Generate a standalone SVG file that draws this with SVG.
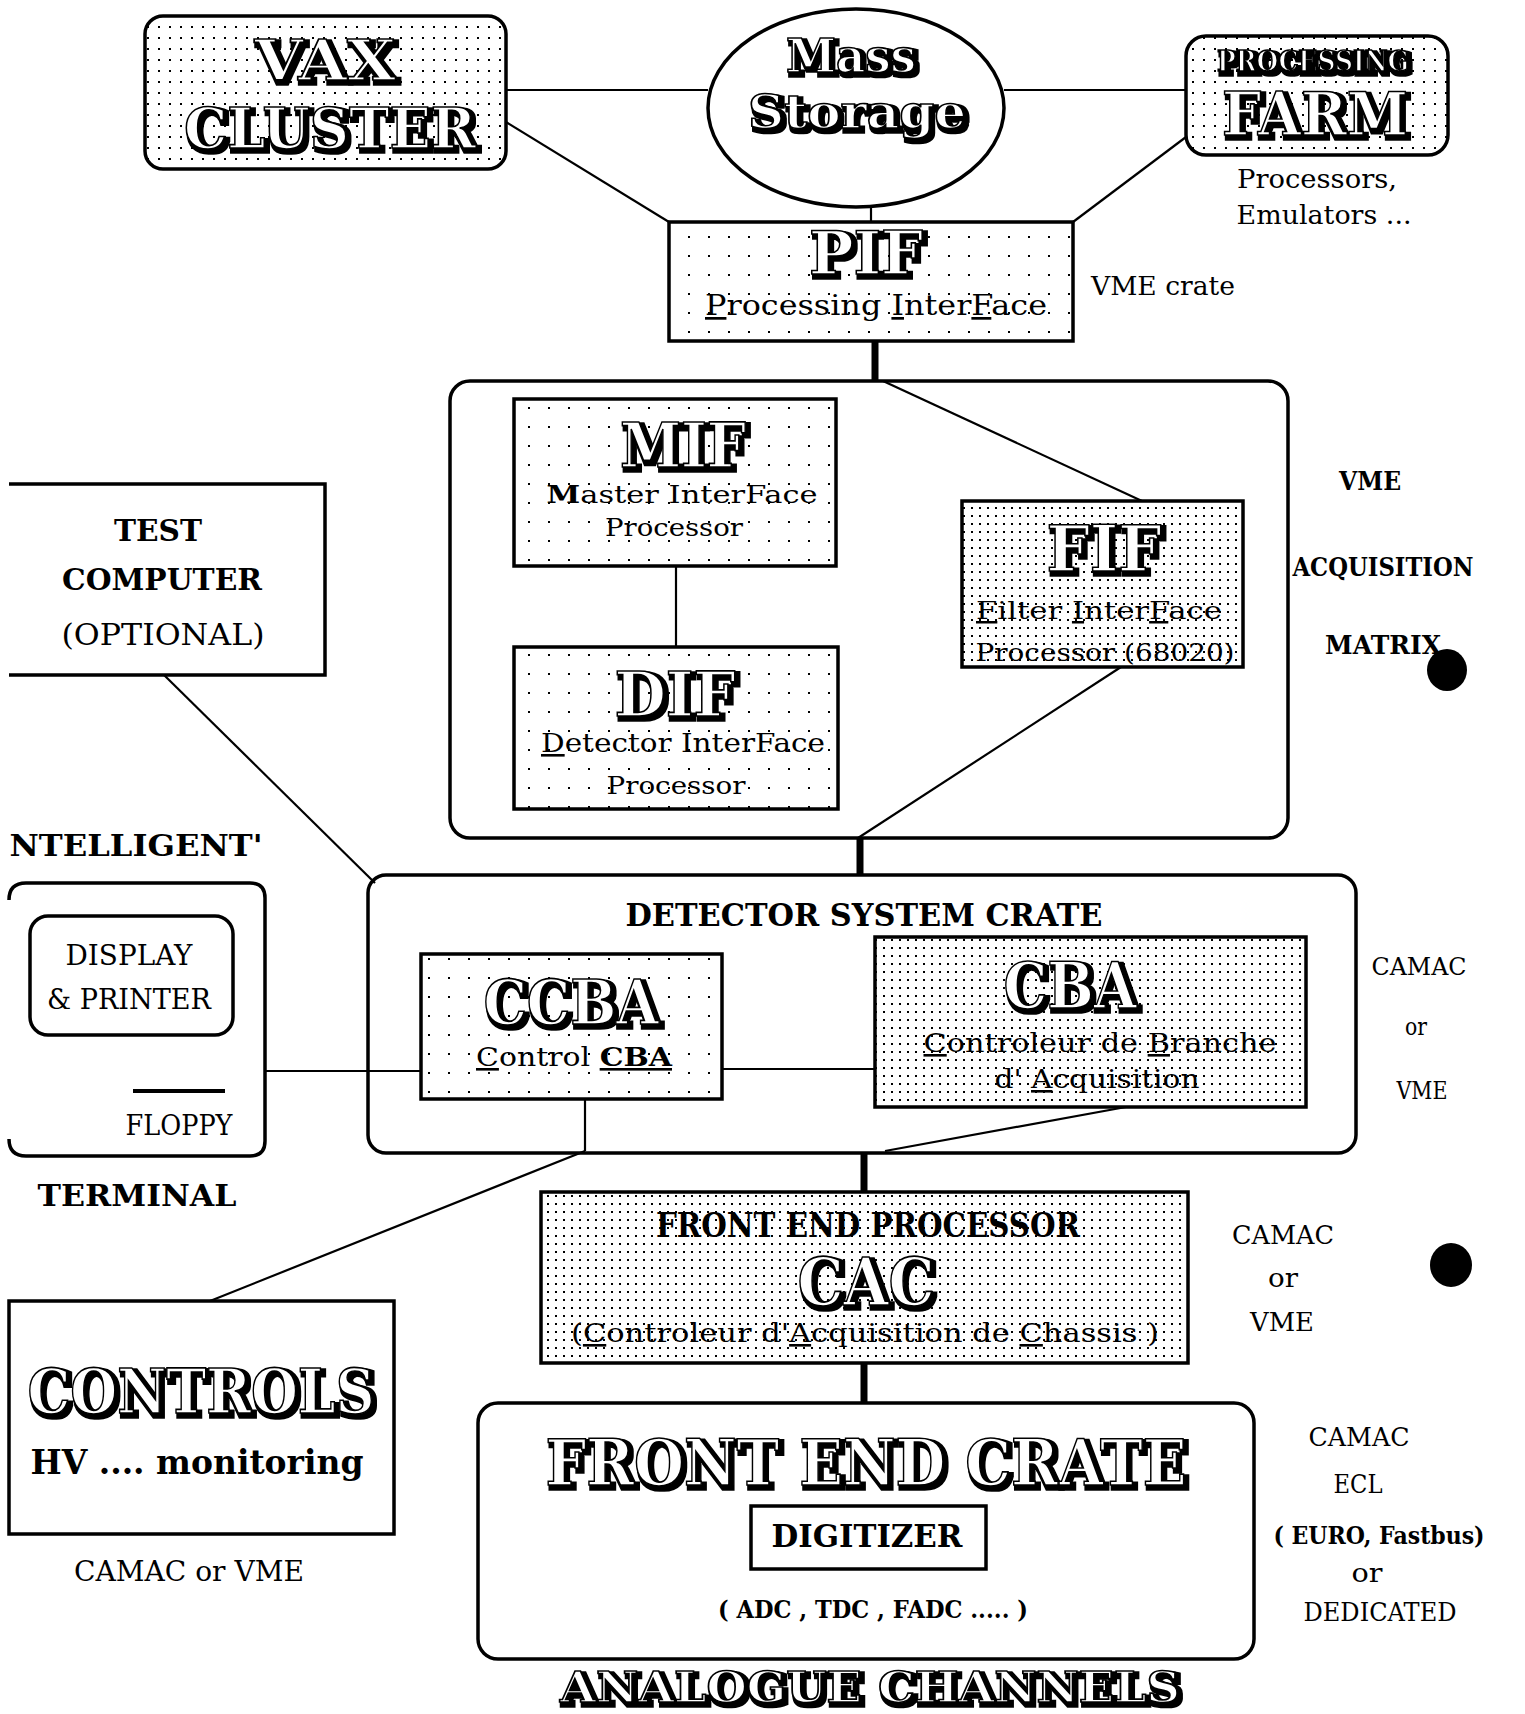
<svg xmlns="http://www.w3.org/2000/svg" width="1525" height="1714" viewBox="0 0 1525 1714">
<defs>
<pattern id="dotsD" width="8" height="8" patternUnits="userSpaceOnUse"><rect width="8" height="8" fill="#fff"/><rect x="3" y="3" width="2" height="2" fill="#000"/></pattern>
<pattern id="dotsM" width="11" height="11" patternUnits="userSpaceOnUse"><rect width="11" height="11" fill="#fff"/><rect x="4" y="4" width="2" height="2" fill="#000"/></pattern>
<pattern id="dotsS" width="20" height="19" patternUnits="userSpaceOnUse"><rect width="20" height="19" fill="#fff"/><rect x="8" y="8" width="2" height="2" fill="#000"/></pattern>
<filter id="sh" x="-10%" y="-30%" width="125%" height="170%">
<feMorphology in="SourceAlpha" operator="dilate" radius="2.2" result="d"/>
<feOffset in="d" dx="3" dy="3" result="o"/>
<feMerge><feMergeNode in="o"/><feMergeNode in="SourceGraphic"/></feMerge>
</filter>
</defs>
<style>
.box{stroke:#000;stroke-width:3.5;fill:#fff}
.nf{fill:none}
.bd{fill:url(#dotsD)}
.bm{fill:url(#dotsM)}
.bs{fill:url(#dotsS)}
.ln{stroke:#000;stroke-width:2.2;fill:none}
.thk{stroke:#000;stroke-width:7;fill:none}
.disp{font-family:"DejaVu Serif","Liberation Serif",serif;font-weight:bold;fill:#fff;stroke:#000;stroke-width:1.6;filter:url(#sh);text-anchor:middle}
.lab{font-family:"DejaVu Serif","Liberation Serif",serif;font-weight:bold;fill:#000;text-anchor:middle}
.reg{font-family:"DejaVu Serif","Liberation Serif",serif;fill:#000;text-anchor:middle}
.u{text-decoration:underline}
</style>
<rect width="1525" height="1714" fill="#fff"/>

<g id="connectors">
<line class="ln" x1="506" y1="90" x2="708" y2="90"/>
<line class="ln" x1="506" y1="122" x2="669" y2="222"/>
<line class="ln" x1="1004" y1="90" x2="1186" y2="90"/>
<line class="ln" x1="1186" y1="137" x2="1073" y2="222"/>
<line class="ln" x1="871" y1="207" x2="871" y2="222"/>
<line class="thk" x1="875" y1="341" x2="875" y2="381"/>
<line class="ln" x1="883" y1="381" x2="1142" y2="501"/>
<line class="ln" x1="676" y1="566" x2="676" y2="647"/>
<line class="ln" x1="1121" y1="667" x2="858" y2="838"/>
<line class="thk" x1="860" y1="838" x2="860" y2="875"/>
<line class="ln" x1="164" y1="675" x2="375" y2="883"/>
<line class="ln" x1="265" y1="1071" x2="421" y2="1071"/>
<line class="ln" x1="722" y1="1069" x2="875" y2="1069"/>
<line class="ln" x1="585" y1="1099" x2="585" y2="1151"/>
<line class="ln" x1="585" y1="1151" x2="210" y2="1301"/>
<line class="ln" x1="1126" y1="1107" x2="885" y2="1151"/>
<line class="thk" x1="864" y1="1153" x2="864" y2="1192"/>
<line class="thk" x1="864" y1="1363" x2="864" y2="1403"/>
</g>

<g id="vax">
<rect class="box bm" x="145" y="16" width="361" height="153" rx="18"/>
<text class="disp" x="325" y="80" font-size="56" textLength="141" lengthAdjust="spacingAndGlyphs">VAX</text>
<text class="disp" x="330" y="148" font-size="56" textLength="292" lengthAdjust="spacingAndGlyphs">CLUSTER</text>
</g>

<g id="mass-storage">
<ellipse class="box" cx="856" cy="108" rx="148" ry="99"/>
<text class="disp" x="851" y="72" font-size="47" textLength="130" lengthAdjust="spacingAndGlyphs">Mass</text>
<text class="disp" x="857" y="128" font-size="47" textLength="218" lengthAdjust="spacingAndGlyphs">Storage</text>
</g>

<g id="farm">
<rect class="box bm" x="1186" y="36" width="262" height="119" rx="20"/>
<text class="disp" x="1313" y="71" font-size="27" textLength="192" lengthAdjust="spacingAndGlyphs">PROCESSING</text>
<text class="disp" x="1315" y="135" font-size="59" textLength="186" lengthAdjust="spacingAndGlyphs">FARM</text>
<text class="reg" x="1317" y="188" font-size="26" textLength="160" lengthAdjust="spacingAndGlyphs">Processors,</text>
<text class="reg" x="1324" y="224" font-size="26" textLength="175" lengthAdjust="spacingAndGlyphs">Emulators ...</text>
</g>

<g id="pif">
<rect class="box bs" x="669" y="222" width="404" height="119"/>
<text class="disp" x="866" y="274" font-size="60" textLength="114" lengthAdjust="spacingAndGlyphs">PIF</text>
<text class="reg" x="876" y="315" font-size="27" textLength="342" lengthAdjust="spacingAndGlyphs"><tspan class="u">P</tspan>rocessing  <tspan class="u">I</tspan>nter<tspan class="u">F</tspan>ace</text>
<text class="reg" x="1163" y="295" font-size="26" textLength="144" lengthAdjust="spacingAndGlyphs">VME crate</text>
</g>

<g id="acq-matrix">
<rect class="box nf" x="450" y="381" width="838" height="457" rx="20"/>
<text class="lab" x="1370" y="490" font-size="26" textLength="62" lengthAdjust="spacingAndGlyphs">VME</text>
<text class="lab" x="1383" y="576" font-size="26" textLength="181" lengthAdjust="spacingAndGlyphs">ACQUISITION</text>
<text class="lab" x="1383" y="654" font-size="26" textLength="116" lengthAdjust="spacingAndGlyphs">MATRIX</text>
<ellipse cx="1447" cy="670" rx="20" ry="21" fill="#000"/>
</g>

<g id="mif">
<rect class="box bs" x="514" y="399" width="322" height="167"/>
<text class="disp" x="683" y="467" font-size="62" textLength="126" lengthAdjust="spacingAndGlyphs">MIF</text>
<text class="reg" x="682" y="503" font-size="25" textLength="271" lengthAdjust="spacingAndGlyphs"><tspan font-weight="bold">M</tspan>aster InterFace</text>
<text class="reg" x="674" y="536" font-size="25" textLength="138" lengthAdjust="spacingAndGlyphs">Processor</text>
</g>

<g id="dif">
<rect class="box bs" x="514" y="647" width="324" height="162"/>
<text class="disp" x="675" y="716" font-size="62" textLength="121" lengthAdjust="spacingAndGlyphs">DIF</text>
<text class="reg" x="683" y="752" font-size="26" textLength="284" lengthAdjust="spacingAndGlyphs"><tspan class="u">D</tspan>etector  InterFace</text>
<text class="reg" x="676" y="794" font-size="25" textLength="139" lengthAdjust="spacingAndGlyphs">Processor</text>
</g>

<g id="fif">
<rect class="box bd" x="962" y="501" width="281" height="166"/>
<text class="disp" x="1104" y="571" font-size="64" textLength="115" lengthAdjust="spacingAndGlyphs">FIF</text>
<text class="reg" x="1099" y="619" font-size="25" textLength="246" lengthAdjust="spacingAndGlyphs"><tspan class="u">F</tspan>ilter  <tspan class="u">I</tspan>nter<tspan class="u">F</tspan>ace</text>
<text class="reg" x="1105" y="661" font-size="25" textLength="259" lengthAdjust="spacingAndGlyphs">Processor (68020)</text>
</g>

<g id="test-computer">
<path class="box nf" d="M9,484 H325 V675 H9"/>
<text class="lab" x="158" y="541" font-size="29" textLength="88" lengthAdjust="spacingAndGlyphs">TEST</text>
<text class="lab" x="162" y="590" font-size="29" textLength="200" lengthAdjust="spacingAndGlyphs">COMPUTER</text>
<text class="reg" x="163" y="645" font-size="29" textLength="203" lengthAdjust="spacingAndGlyphs">(OPTIONAL)</text>
</g>

<g id="terminal">
<text class="lab" x="136" y="856" font-size="29" textLength="253" lengthAdjust="spacingAndGlyphs">NTELLIGENT'</text>
<path class="box nf" d="M9,900 Q9,883 26,883 H250 Q265,883 265,898 V1141 Q265,1156 250,1156 H26 Q9,1156 9,1139"/>
<rect class="box" x="30" y="916" width="203" height="119" rx="18"/>
<text class="reg" x="129" y="965" font-size="27" textLength="127" lengthAdjust="spacingAndGlyphs">DISPLAY</text>
<text class="reg" x="129" y="1009" font-size="27" textLength="164" lengthAdjust="spacingAndGlyphs">&amp; PRINTER</text>
<line x1="133" y1="1091" x2="225" y2="1091" stroke="#000" stroke-width="4"/>
<text class="reg" x="179" y="1135" font-size="27" textLength="107" lengthAdjust="spacingAndGlyphs">FLOPPY</text>
<text class="lab" x="137" y="1206" font-size="29" textLength="199" lengthAdjust="spacingAndGlyphs">TERMINAL</text>
</g>

<g id="detector-crate">
<rect class="box nf" x="368" y="875" width="988" height="278" rx="18"/>
<text class="lab" x="864" y="926" font-size="31" textLength="477" lengthAdjust="spacingAndGlyphs">DETECTOR SYSTEM CRATE</text>
<text class="reg" x="1419" y="975" font-size="25" textLength="95" lengthAdjust="spacingAndGlyphs">CAMAC</text>
<text class="reg" x="1416" y="1035" font-size="25" textLength="22" lengthAdjust="spacingAndGlyphs">or</text>
<text class="reg" x="1422" y="1099" font-size="25" textLength="51" lengthAdjust="spacingAndGlyphs">VME</text>
</g>

<g id="ccba">
<rect class="box bs" x="421" y="954" width="301" height="145"/>
<text class="disp" x="571" y="1024" font-size="62" textLength="175" lengthAdjust="spacingAndGlyphs">CCBA</text>
<text class="reg" x="574" y="1066" font-size="26" textLength="196" lengthAdjust="spacingAndGlyphs"><tspan class="u">C</tspan>ontrol  <tspan class="u" font-weight="bold">CBA</tspan></text>
</g>

<g id="cba">
<rect class="box bd" x="875" y="937" width="431" height="170"/>
<text class="disp" x="1070" y="1008" font-size="64" textLength="133" lengthAdjust="spacingAndGlyphs">CBA</text>
<text class="reg" x="1100" y="1052" font-size="26" textLength="353" lengthAdjust="spacingAndGlyphs"><tspan class="u">C</tspan>ontroleur  de  <tspan class="u">B</tspan>ranche</text>
<text class="reg" x="1097" y="1088" font-size="26" textLength="205" lengthAdjust="spacingAndGlyphs">d'  <tspan class="u">A</tspan>cquisition</text>
</g>

<g id="fep">
<rect class="box bd" x="541" y="1192" width="647" height="171"/>
<text class="lab" x="868" y="1237" font-size="33" textLength="424" lengthAdjust="spacingAndGlyphs">FRONT END PROCESSOR</text>
<text class="disp" x="866" y="1305" font-size="66" textLength="137" lengthAdjust="spacingAndGlyphs">CAC</text>
<text class="reg" x="865" y="1342" font-size="26" textLength="588" lengthAdjust="spacingAndGlyphs">(<tspan class="u">C</tspan>ontroleur  d'<tspan class="u">A</tspan>cquisition  de  <tspan class="u">C</tspan>hassis )</text>
<text class="reg" x="1283" y="1244" font-size="26" textLength="102" lengthAdjust="spacingAndGlyphs">CAMAC</text>
<text class="reg" x="1283" y="1287" font-size="26" textLength="30" lengthAdjust="spacingAndGlyphs">or</text>
<text class="reg" x="1282" y="1331" font-size="26" textLength="64" lengthAdjust="spacingAndGlyphs">VME</text>
<ellipse cx="1451" cy="1265" rx="21" ry="22" fill="#000"/>
</g>

<g id="controls">
<rect class="box" x="9" y="1301" width="385" height="233"/>
<text class="disp" x="201" y="1413" font-size="62" textLength="347" lengthAdjust="spacingAndGlyphs">CONTROLS</text>
<text class="lab" x="197" y="1474" font-size="33" textLength="333" lengthAdjust="spacingAndGlyphs">HV .... monitoring</text>
<text class="reg" x="189" y="1581" font-size="27" textLength="230" lengthAdjust="spacingAndGlyphs">CAMAC or VME</text>
</g>

<g id="front-end-crate">
<rect class="box nf" x="478" y="1403" width="776" height="256" rx="20"/>
<text class="disp" x="866" y="1485" font-size="64" textLength="641" lengthAdjust="spacingAndGlyphs">FRONT END CRATE</text>
<rect class="box" x="751" y="1506" width="235" height="63"/>
<text class="lab" x="867" y="1547" font-size="31" textLength="191" lengthAdjust="spacingAndGlyphs">DIGITIZER</text>
<text class="lab" x="873" y="1618" font-size="25" textLength="310" lengthAdjust="spacingAndGlyphs">( ADC , TDC , FADC ..... )</text>
<text class="reg" x="1359" y="1446" font-size="26" textLength="101" lengthAdjust="spacingAndGlyphs">CAMAC</text>
<text class="reg" x="1358" y="1493" font-size="26" textLength="49" lengthAdjust="spacingAndGlyphs">ECL</text>
<text class="lab" x="1379" y="1544" font-size="24" textLength="211" lengthAdjust="spacingAndGlyphs">( EURO, Fastbus)</text>
<text class="reg" x="1367" y="1582" font-size="26" textLength="31" lengthAdjust="spacingAndGlyphs">or</text>
<text class="reg" x="1380" y="1621" font-size="26" textLength="153" lengthAdjust="spacingAndGlyphs">DEDICATED</text>
</g>

<g id="analogue-channels">
<text class="disp" x="870" y="1702" font-size="42" textLength="620" lengthAdjust="spacingAndGlyphs">ANALOGUE CHANNELS</text>
</g>
</svg>
